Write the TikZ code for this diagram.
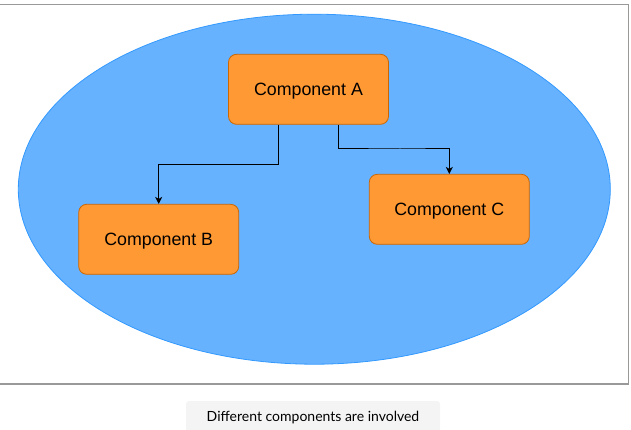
\documentclass[tikz,border=0pt]{standalone}
\usepackage{fontspec}
\setmainfont{Liberation Sans}
\newfontfamily\capfont{Lato}
\usetikzlibrary{arrows.meta,shapes.geometric}
\definecolor{ellfill}{HTML}{66B2FF}
\definecolor{elldraw}{HTML}{3399FF}
\definecolor{boxfill}{HTML}{FF9933}
\definecolor{boxdraw}{HTML}{CC6600}
\definecolor{framegray}{HTML}{999999}
\definecolor{capfill}{HTML}{F4F4F4}
\tikzset{
  comp/.style={draw=boxdraw, fill=boxfill, rounded corners=8pt, minimum width=160pt, minimum height=70pt, inner sep=0pt, text depth=0pt, line width=0.8pt, font=\fontsize{17.8}{20}\selectfont},
  conn/.style={draw=black, line width=1pt, -{Stealth[length=7pt,width=7pt,inset=2pt]}},
}
\begin{document}
\begin{tikzpicture}[x=1pt,y=-1pt]
\useasboundingbox (0,0) rectangle (631,430);
\draw[framegray, line width=1.2pt] (-3,4.5) rectangle (628.5,384);
\node[draw=elldraw, fill=ellfill, ellipse, line width=0.8pt, minimum width=592pt, minimum height=350pt, inner sep=0pt] (ell) at (314.3,189.2) {};
\node[comp] (A) at (308.5,89.3) {Component A};
\node[comp] (B) at (158.7,239.3) {Component B};
\node[comp] (C) at (449.3,209.3) {Component C};
\coordinate (a1) at ([xshift=-30pt]A.south);
\coordinate (a2) at ([xshift=30pt]A.south);
\draw[conn] (a1) |- (220,164.3) -| (B.north);
\draw[conn] (a2) |- (400,149) -| (C.north);
\node[fill=capfill, rounded corners=3pt, minimum width=254pt, minimum height=34pt, inner sep=0pt] (cap) at (313,418) {};
\node[inner sep=0pt, text depth=0pt, font=\capfont\fontsize{14}{16}\selectfont] (captext) at (313,416.5) {Different components are involved};
\end{tikzpicture}
\end{document}
